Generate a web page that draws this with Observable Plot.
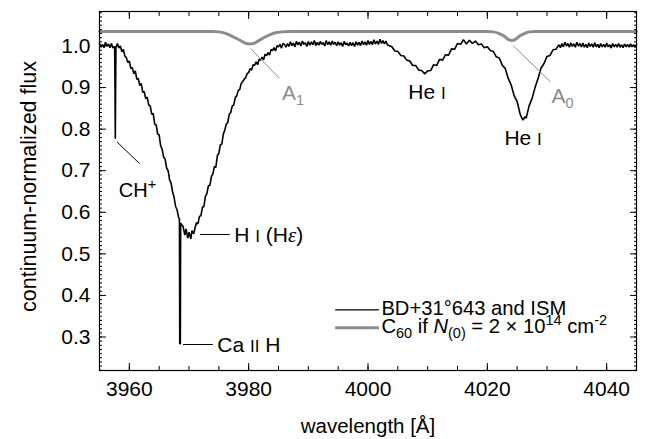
<!DOCTYPE html>
<html><head><meta charset="utf-8">
<script src="https://cdn.jsdelivr.net/npm/d3@7"></script>
<script src="https://cdn.jsdelivr.net/npm/@observablehq/plot@0.6"></script>
<style>html,body{margin:0;padding:0;background:#fff}#chart svg{display:block}</style>
</head><body><div id="chart"></div>
<script>
// Observed spectrum BD+31°643 and ISM: [wavelength Å, normalized flux]
const spectrum = [
[3955.0,1.006],[3955.25,0.997],[3955.5,1.004],[3955.75,0.996],[3956.0,1.009],[3956.25,0.999],
[3956.5,1.005],[3956.75,0.996],[3957.0,1.006],[3957.25,0.995],[3957.5,0.999],
[3957.55,0.998],[3957.65,0.777],[3957.75,0.996],
[3958.0,1.006],[3958.25,0.995],[3958.5,1.000],[3958.75,0.986],[3959.0,0.992],[3959.25,0.976],
[3959.5,0.972],[3959.75,0.960],[3960.0,0.964],[3960.25,0.946],[3960.5,0.948],[3960.75,0.933],
[3961.0,0.940],[3961.25,0.920],[3961.5,0.922],[3961.75,0.905],[3962.0,0.910],[3962.25,0.889],
[3962.5,0.890],[3962.75,0.873],[3963.0,0.877],[3963.25,0.858],[3963.5,0.856],[3963.75,0.836],
[3964.0,0.838],[3964.25,0.812],[3964.5,0.810],[3964.75,0.788],[3965.0,0.786],[3965.25,0.760],
[3965.5,0.752],[3965.75,0.732],[3966.0,0.728],[3966.25,0.706],[3966.5,0.700],[3966.75,0.678],
[3967.0,0.670],[3967.25,0.648],[3967.5,0.636],[3967.75,0.614],[3968.0,0.606],[3968.25,0.588],
[3968.4,0.583],[3968.45,0.284],[3968.55,0.284],[3968.6,0.574],[3969.0,0.566],[3969.3,0.545],
[3969.5,0.560],[3969.8,0.538],[3970.0,0.552],[3970.3,0.536],[3970.5,0.556],[3970.8,0.548],
[3971.0,0.562],[3971.25,0.575],[3971.5,0.572],[3971.75,0.590],[3972.0,0.592],[3972.25,0.612],
[3972.5,0.614],[3972.75,0.638],[3973.0,0.645],[3973.25,0.664],[3973.5,0.665],[3973.75,0.686],
[3974.0,0.692],[3974.25,0.710],[3974.5,0.708],[3974.75,0.736],[3975.0,0.742],[3975.25,0.762],
[3975.5,0.764],[3975.75,0.788],[3976.0,0.798],[3976.25,0.812],[3976.5,0.816],[3976.75,0.836],
[3977.0,0.840],[3977.25,0.856],[3977.5,0.858],[3977.75,0.876],[3978.0,0.880],[3978.25,0.893],
[3978.5,0.895],[3978.75,0.910],[3979.0,0.914],[3979.25,0.920],[3979.5,0.924],[3979.75,0.934],
[3980.0,0.936],[3980.25,0.946],[3980.5,0.942],[3980.75,0.955],[3981.0,0.954],[3981.25,0.962],
[3981.5,0.955],[3981.75,0.968],[3982.0,0.966],[3982.25,0.973],[3982.5,0.967],[3982.75,0.980],
[3983.0,0.977],[3983.25,0.984],[3983.5,0.978],[3983.75,0.992],[3984.0,0.989],[3984.25,0.996],
[3984.5,0.988],[3984.75,1.001],[3985.0,0.998],[3985.25,1.004],[3985.5,0.995],[3985.75,1.006],
[3986.0,1.004],[3986.25,0.997],[3986.5,1.006],[3986.75,0.999],[3987.0,1.010],[3987.25,1.001],
[3987.5,1.007],[3987.75,0.998],[3988.0,1.011],[3988.25,1.003],[3988.5,1.009],[3988.75,1.000],
[3989.0,1.012],[3989.25,1.004],[3989.5,1.008],[3989.75,0.999],[3990.0,1.011],[3990.25,1.002],
[3990.5,1.010],[3990.75,1.003],[3991.0,1.013],[3991.25,1.001],[3991.5,1.009],[3991.75,1.002],
[3992.0,1.011],[3992.25,1.004],[3992.5,1.008],[3992.75,1.000],[3993.0,1.013],[3993.25,1.003],
[3993.5,1.010],[3993.75,1.002],[3994.0,1.012],[3994.25,1.004],[3994.5,1.009],[3994.75,1.001],
[3995.0,1.010],[3995.25,1.002],[3995.5,1.008],[3995.75,0.999],[3996.0,1.011],[3996.25,1.003],
[3996.5,1.007],[3996.75,1.000],[3997.0,1.009],[3997.25,1.001],[3997.5,1.008],[3997.75,0.999],
[3998.0,1.010],[3998.25,1.002],[3998.5,1.009],[3998.75,1.001],[3999.0,1.012],[3999.25,1.003],
[3999.5,1.010],[3999.75,1.002],[4000.0,1.013],[4000.25,1.004],[4000.5,1.011],[4000.75,1.003],
[4001.0,1.015],[4001.25,1.005],[4001.5,1.012],[4001.75,1.004],[4002.0,1.016],[4002.25,1.006],
[4002.5,1.013],[4002.75,1.005],[4003.0,1.012],[4003.25,1.003],[4003.5,1.001],
[4004.0,0.998],[4004.5,0.988],[4005.0,0.987],[4005.5,0.977],[4006.0,0.976],[4006.5,0.966],
[4007.0,0.964],[4007.5,0.953],[4008.0,0.953],[4008.5,0.942],[4009.0,0.941],[4009.5,0.933],
[4010.0,0.940],[4010.5,0.941],[4011.0,0.955],[4011.5,0.953],[4012.0,0.968],[4012.5,0.966],
[4013.0,0.979],[4013.5,0.978],[4014.0,0.993],[4014.5,0.992],[4015.0,1.006],[4015.5,1.004],
[4016.0,1.015],[4016.5,1.005],[4017.0,1.014],[4017.5,1.006],[4018.0,1.012],[4018.5,1.003],
[4019.0,1.005],[4019.5,0.996],[4020.0,0.998],[4020.5,0.989],[4021.0,0.987],[4021.5,0.974],
[4022.0,0.971],[4022.5,0.954],[4023.0,0.946],[4023.5,0.922],[4024.0,0.906],[4024.5,0.880],
[4025.0,0.866],[4025.5,0.836],[4025.8,0.826],[4026.0,0.822],[4026.3,0.830],[4026.5,0.826],
[4027.0,0.856],[4027.5,0.874],[4028.0,0.900],[4028.5,0.922],[4029.0,0.947],[4029.5,0.958],
[4030.0,0.975],[4030.5,0.977],[4031.0,0.991],[4031.5,0.992],
[4032.0,1.003],[4032.25,0.996],[4032.5,1.006],[4032.75,0.998],[4033.0,1.009],[4033.25,1.000],
[4033.5,1.006],[4033.75,0.997],[4034.0,1.008],[4034.25,0.999],[4034.5,1.005],[4034.75,0.997],
[4035.0,1.009],[4035.25,1.000],[4035.5,1.006],[4035.75,0.998],[4036.0,1.007],[4036.25,0.997],
[4036.5,1.004],[4036.75,0.996],[4037.0,1.007],[4037.25,0.999],[4037.5,1.005],[4037.75,0.997],
[4038.0,1.008],[4038.25,0.998],[4038.5,1.004],[4038.75,0.996],[4039.0,1.006],[4039.25,0.998],
[4039.5,1.004],[4039.75,0.997],[4040.0,1.007],[4040.25,0.998],[4040.5,1.003],[4040.75,0.995],
[4041.0,1.006],[4041.25,0.998],[4041.5,1.004],[4041.75,0.997],[4042.0,1.006],[4042.25,0.997],
[4042.5,1.003],[4042.75,0.996],[4043.0,1.005],[4043.25,0.998],[4043.5,1.004],[4043.75,0.997],
[4044.0,1.005],[4044.25,0.998],[4044.5,1.003],[4044.75,0.997],[4045.0,1.003]
];
// C60 model (offset for display): [wavelength Å, flux]
const c60 = [
[3955,1.035],[3974,1.035],[3975,1.034],[3976,1.031],[3977,1.025],[3978,1.018],[3979,1.010],
[3979.6,1.006],[3980.2,1.005],[3980.8,1.006],[3981.5,1.011],[3982.5,1.020],[3983.5,1.027],
[3984.5,1.032],[3985.5,1.034],[3987,1.035],[4020,1.035],[4021,1.034],[4022,1.030],
[4022.8,1.024],[4023.5,1.016],[4024.1,1.013],[4024.7,1.016],[4025.4,1.024],[4026.2,1.030],
[4027,1.034],[4028,1.035],[4045,1.035]
];
const xMajorTicks = [3960, 3980, 4000, 4020, 4040];
const xMinorTicks = d3.range(3955, 4046, 5);
const yMajorTicks = [0.3, 0.4, 0.5, 0.6, 0.7, 0.8, 0.9, 1.0];
const yMinorTicks = d3.range(22, 109).map(d => d / 100);

// leader lines (data coordinates)
const blackLeaders = [
  {x1: 3957.95, y1: 0.769, x2: 3961.72, y2: 0.717},
  {x1: 3971.83, y1: 0.5466, x2: 3976.83, y2: 0.5466},
  {x1: 3969.0, y1: 0.2819, x2: 3974.0, y2: 0.2819}
];
const grayLeaders = [
  {x1: 3980.33, y1: 0.994, x2: 3985.17, y2: 0.922},
  {x1: 4024.33, y1: 1.001, x2: 4030.62, y2: 0.913}
];
const legendBlack = [{x1: 3994.5, x2: 4001.83, y: 0.3654}];
const legendGray = [{x1: 3994.5, x2: 4001.83, y: 0.3221}];

// text labels: anchor (start, baseline) in data coordinates
const labels = [
  {x: 3958.33, y: 0.6363, size: 20, color: "#000", parts: [["CH",""],["+","sup"]]},
  {x: 3985.67, y: 0.8689, size: 21, color: "#8c8c8c", parts: [["A",""],["1","sub"]]},
  {x: 4006.83, y: 0.8713, size: 21, color: "#000", parts: [["He ",""],["I","sc"]]},
  {x: 4030.83, y: 0.8617, size: 21, color: "#8c8c8c", parts: [["A",""],["0","sub"]]},
  {x: 4022.95, y: 0.7606, size: 21, color: "#000", parts: [["He ",""],["I","sc"]]},
  {x: 3977.67, y: 0.528, size: 21, color: "#000", parts: [["H ",""],["I","sc"],[" (H",""],["ε","eps"],[")",""]]},
  {x: 3974.83, y: 0.2634, size: 21, color: "#000", parts: [["Ca ",""],["II","sc"],[" H",""]]},
  {x: 4002.33, y: 0.3517, size: 20.2, color: "#000", parts: [["BD+31°643 and ISM",""]]},
  {x: 4002.33, y: 0.3096, size: 20.2, color: "#000", parts: [["C",""],["60","sub"],[" if ",""],["N","it"],["(0)","sub"],[" = 2 × 10",""],["14","sup"],[" cm",""],["-2","sup"]]}
];

const FONT = "'Liberation Sans', Arial, Helvetica, sans-serif";
const tickOpts = {tickFormat: () => "", label: null};

const plot = Plot.plot({
  width: 656, height: 439,
  marginLeft: 99, marginRight: 20, marginTop: 11, marginBottom: 69,
  style: {fontFamily: FONT, fontSize: "21px", color: "#000", background: "#fff"},
  x: {domain: [3955, 4045]},
  y: {domain: [0.2194, 1.083]},
  marks: [
    Plot.line(c60, {x: d => d[0], y: d => d[1], stroke: "#8c8c8c", strokeWidth: 3, curve: "monotone-x"}),
    Plot.line(spectrum, {x: d => d[0], y: d => d[1], stroke: "#000", strokeWidth: 1.6, strokeLinejoin: "miter"}),
    Plot.link(blackLeaders, {x1: "x1", y1: "y1", x2: "x2", y2: "y2", stroke: "#000", strokeWidth: 1}),
    Plot.link(grayLeaders, {x1: "x1", y1: "y1", x2: "x2", y2: "y2", stroke: "#8c8c8c", strokeWidth: 1}),
    Plot.link(legendBlack, {x1: "x1", x2: "x2", y1: "y", y2: "y", stroke: "#000", strokeWidth: 1.3}),
    Plot.link(legendGray, {x1: "x1", x2: "x2", y1: "y", y2: "y", stroke: "#8c8c8c", strokeWidth: 3}),
    Plot.axisX(xMajorTicks, {anchor: "bottom", tickSize: 0, tickPadding: 11, tickFormat: d => String(d), label: null}),
    Plot.axisX(xMajorTicks, {anchor: "bottom", tickSize: -7, ...tickOpts}),
    Plot.axisX(xMinorTicks, {anchor: "bottom", tickSize: -4, ...tickOpts}),
    Plot.axisX(xMajorTicks, {anchor: "top", tickSize: -7, ...tickOpts}),
    Plot.axisX(xMinorTicks, {anchor: "top", tickSize: -4, ...tickOpts}),
    Plot.axisY(yMajorTicks, {anchor: "left", tickSize: 0, tickPadding: 9, tickFormat: d3.format(".1f"), label: null}),
    Plot.axisY(yMajorTicks, {anchor: "left", tickSize: -7, ...tickOpts}),
    Plot.axisY(yMinorTicks, {anchor: "left", tickSize: -3, ...tickOpts}),
    Plot.axisY(yMajorTicks, {anchor: "right", tickSize: -7, ...tickOpts}),
    Plot.axisY(yMinorTicks, {anchor: "right", tickSize: -3, ...tickOpts}),
    Plot.frame({stroke: "#000", strokeWidth: 1.2}),
    Plot.text(["wavelength [Å]"], {frameAnchor: "bottom", dy: 62, lineAnchor: "bottom", fontSize: 20.5}),
    Plot.text(["continuum-normalized flux"], {frameAnchor: "left", textAnchor: "middle", rotate: -90, dx: -64, dy: -4.5, lineAnchor: "bottom", fontSize: 21.5})
  ]
});

document.getElementById("chart").appendChild(plot);

// rich-text labels positioned through Plot's scales
const sx = plot.scale("x"), sy = plot.scale("y");
const g = d3.select(plot).append("g").attr("font-family", FONT).attr("text-anchor", "start");
for (const a of labels) {
  const t = g.append("text").attr("x", sx.apply(a.x)).attr("y", sy.apply(a.y))
    .attr("fill", a.color).attr("font-size", a.size).attr("text-anchor", "start");
  let shift = 0;
  for (const [s, kind] of a.parts) {
    const target = kind === "sup" ? -8 : kind === "sub" ? 5 : 0;
    const ts = t.append("tspan").text(s).attr("dy", target - shift);
    shift = target;
    if (kind === "sup" || kind === "sub") ts.attr("font-size", 14.5);
    if (kind === "sc") ts.attr("font-size", 17);
    if (kind === "it") ts.attr("font-style", "italic");
    if (kind === "eps") ts.attr("font-family", "'Liberation Serif', 'DejaVu Serif', serif").attr("font-style", "italic");
  }
}
</script>
</body></html>
